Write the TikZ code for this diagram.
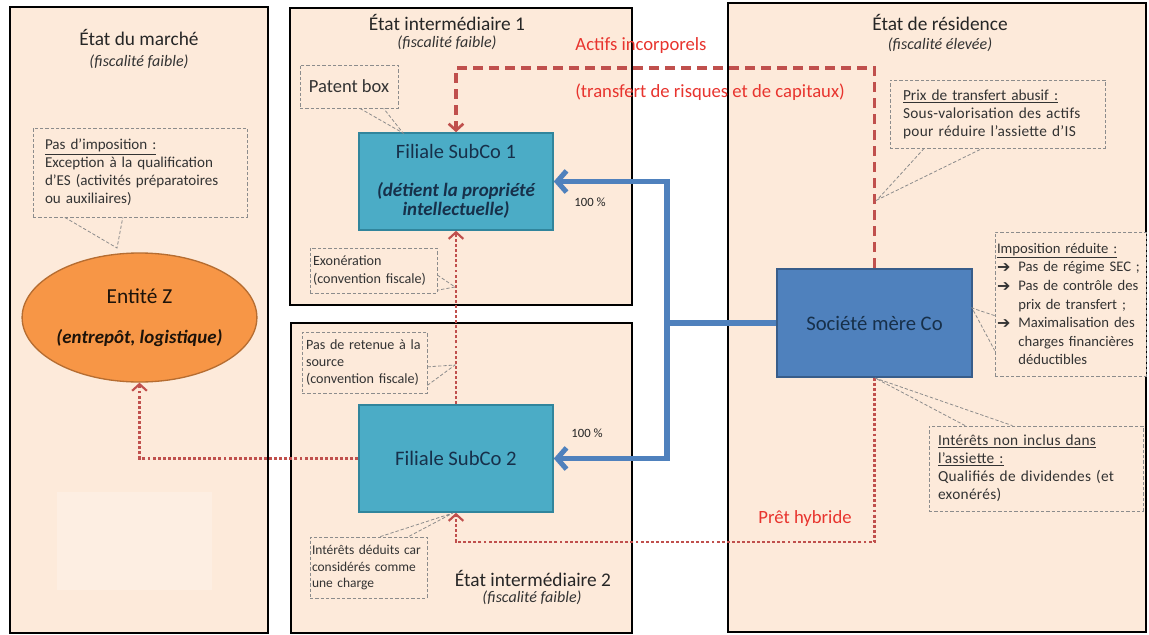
\documentclass[tikz,border=0pt]{standalone}
\usepackage{fontspec}
\setmainfont{Carlito}
\newfontfamily\symfont{DejaVu Sans}
\usetikzlibrary{arrows.meta,calc,shapes.geometric}

\definecolor{panelfill}{HTML}{FDEADA}
\definecolor{faintfill}{HTML}{FDEEE2}
\definecolor{subfill}{HTML}{4BACC6}
\definecolor{subdraw}{HTML}{31859C}
\definecolor{cofill}{HTML}{4F81BD}
\definecolor{codraw}{HTML}{385D8A}
\definecolor{zfill}{HTML}{F79646}
\definecolor{zdraw}{HTML}{B66D31}
\definecolor{flowred}{HTML}{C0504D}
\definecolor{labelred}{HTML}{E8342E}
\definecolor{calloutgray}{HTML}{8C8C8C}
\definecolor{callouttext}{HTML}{333333}
\definecolor{boxtext}{HTML}{17304A}

\newcommand\listarrow{\makebox[16pt][l]{\symfont\fontsize{12}{12}\selectfont\bfseries\raisebox{-0.5pt}{➔}}}

\tikzset{
  panel/.style={draw=black, line width=1.6pt, fill=panelfill},
  country/.style={font=\fontsize{14.5}{17}\selectfont, text=black!85},
  regime/.style={font=\fontsize{12}{14}\selectfont\itshape, text=black!80},
  subco/.style={draw=subdraw, line width=1.2pt, fill=subfill, text=boxtext,
    align=center, minimum width=145.5pt, inner sep=0pt},
  parent/.style={draw=codraw, line width=1.2pt, fill=cofill, text=boxtext,
    align=center, minimum width=146.25pt, minimum height=81pt,
    font=\fontsize{15.5}{17}\selectfont},
  warehouse/.style={ellipse, draw=zdraw, line width=1pt, fill=zfill,
    text=black!85!brown, align=center, inner sep=0pt,
    minimum width=161.25pt, minimum height=96.75pt,
    font=\fontsize{14.2}{17}\selectfont},
  share/.style={font=\fontsize{9.5}{11}\selectfont, text=black!85},
  redlabel/.style={font=\fontsize{14}{16}\selectfont, text=labelred},
  callout/.style={draw=calloutgray, line width=0.6pt,
    dash pattern=on 2.5pt off 1.5pt, fill=panelfill, text=callouttext,
    align=left, inner ysep=0pt},
  note/.style={font=\fontsize{11.3}{13.5}\selectfont},
  widenote/.style={font=\fontsize{11.5}{13.5}\selectfont\addfontfeatures{LetterSpace=2}},
  smallnote/.style={font=\fontsize{10.6}{13}\selectfont},
  pointer/.style={draw=calloutgray, line width=0.6pt,
    dash pattern=on 2.5pt off 1.5pt},
  own/.style={draw=cofill, line width=3.8pt,
    >={Straight Barb[length=7pt,width=16pt]}},
  flow/.style={draw=flowred, line width=2.2pt, dash pattern=on 2.2pt off 1.6pt,
    -{Straight Barb[length=5pt,width=11pt,line width=1.6pt]}},
  transfer/.style={draw=flowred, line width=2.6pt, dash pattern=on 7.5pt off 4.5pt,
    -{Straight Barb[length=5pt,width=11pt,line width=2pt]}},
}

\begin{document}
\begin{tikzpicture}[x=0.75pt, y=-0.75pt]
\useasboundingbox (0,0) rectangle (1149,635);
\fill[white] (0,0) rectangle (1149,635);

% the four states
\draw[panel] (10,7) rectangle (268,633);
\draw[panel] (290,8) rectangle (632,305);
\draw[panel] (291,323) rectangle (632,633);
\draw[panel] (728,3) rectangle (1146,632);
\fill[faintfill] (57,492) rectangle (212,590);

\node[country] (marche) at (139,37) {État du marché};
\node[regime] (marche-fisc) at (139,62) {(fiscalité faible)};
\node[country] (inter1) at (447,23) {État intermédiaire 1};
\node[regime] (inter1-fisc) at (447,43) {(fiscalité faible)};
\node[country] (inter2) at (533,578) {État intermédiaire 2};
\node[regime] (inter2-fisc) at (532,598) {(fiscalité faible)};
\node[country] (residence) at (940,23) {État de résidence};
\node[regime] (residence-fisc) at (940,45) {(fiscalité élevée)};

% entities
\node[warehouse] (z) at (139.5,317.5)
  {{\fontsize{16}{17}\selectfont Entité Z}\\[13pt]{\bfseries\itshape (entrepôt, logistique)}};
\node[subco, minimum height=72.75pt, font=\fontsize{14.2}{14.6}\selectfont] (sub1) at (456,181.5)
  {{\fontsize{15.3}{14.6}\selectfont Filiale SubCo 1}\\[13.9pt]
   {\bfseries\itshape (détient la propriété}\\{\bfseries\itshape intellectuelle)}};
\node[subco, minimum height=80.25pt, font=\fontsize{15.5}{17}\selectfont] (sub2) at (456,458.5)
  {Filiale SubCo 2};
\node[parent] (co) at (874.5,323) {Société mère Co};

% participations
\coordinate (fork) at (667,323);
\draw[own] (co.west) -- (fork);
\draw[own, <->] (sub1.east) -| (fork) |- (sub2.east);
\node[share] (share1) at (590,202) {100 \%};
\node[share] (share2) at (587,433) {100 \%};

% flows
\coordinate (actifs-corner) at (456,68);
\draw[transfer] (co.north) |- (actifs-corner) -- (sub1.north);
\draw[flow] (sub2.north) -- (sub1.south);
\draw[flow] (sub2.west) -| (z.south);
\coordinate (hybride-corner) at (456,542);
\draw[flow] (co.south) |- (hybride-corner) -- (sub2.south);

\node[redlabel] (actifs) at (641,46) {Actifs incorporels};
\node[redlabel, font=\fontsize{14}{16}\selectfont] (risques) at (710,92)
  {(transfert de risques et de capitaux)};
\node[redlabel] (hybride) at (805,519) {Prêt hybride};

% callouts
\node[callout, note, minimum width=160.5pt, minimum height=66.75pt,
  inner xsep=9pt, text width=142.5pt] (imposz) at (140,172.5)
  {\underline{Pas d’imposition :}\\Exception à la qualification\\
   d’ES (activités préparatoires\\ou auxiliaires)};
\node[callout, align=center, font=\fontsize{13.9}{15}\selectfont,
  minimum width=73.5pt, minimum height=32.25pt, inner xsep=0pt] (patent) at (349,86.5)
  {Patent box};
\node[callout, smallnote, minimum width=95.25pt, minimum height=33.75pt,
  inner xsep=2.25pt, text width=90.75pt] (exo) at (373.5,270.5)
  {Exonération\\(convention fiscale)};
\node[callout, smallnote, minimum width=93.75pt, minimum height=45.75pt,
  inner xsep=3pt, text width=87.75pt] (retenue) at (364.5,362.5)
  {Pas de retenue à la\\source\\(convention fiscale)};
\node[callout, font=\fontsize{10.1}{12.4}\selectfont, minimum width=87.75pt,
  minimum height=45.75pt, inner xsep=1.5pt, text width=84.75pt] (deduits) at (368.5,567.5)
  {Intérêts déduits car\\considérés comme\\une charge};
\node[callout, widenote, minimum width=161.25pt, minimum height=51pt,
  inner xsep=9.75pt, text width=141.75pt] (prix) at (997.5,114)
  {{\addfontfeatures{LetterSpace=0}\underline{Prix de transfert abusif :}}\\
   Sous-valorisation des actifs\\pour réduire l’assiette d’IS};
\node[callout, font=\fontsize{11}{13.9}\selectfont, minimum width=113.25pt,
  minimum height=108pt, inner xsep=1.5pt, text width=110.25pt] (imposco) at (1070.5,304)
  {\underline{Imposition réduite :}\\
   \listarrow\mbox{Pas de régime SEC ;}\\
   \listarrow\mbox{Pas de contrôle des}\\
   \hspace*{16pt}\mbox{prix de transfert ;}\\
   \listarrow\mbox{Maximalisation des}\\
   \hspace*{16pt}\mbox{charges financières}\\
   \hspace*{16pt}déductibles};
\node[callout, widenote, minimum width=160.5pt, minimum height=63.75pt,
  inner xsep=6.75pt, text width=147pt] (interets) at (1036,468.5)
  {\underline{Intérêts non inclus dans}\\\underline{l’assiette :}\\
   Qualifiés de dividendes (et\\exonérés)};

% callout pointers
\coordinate (imposz-tip) at (117,248);
\coordinate (patent-tip) at (403,133);
\coordinate (exo-tip) at (455,287);
\coordinate (retenue-tip) at (455,365);
\coordinate (deduits-tip) at (453,513);
\coordinate (prix-tip) at (877,200);
\coordinate (imposco-tip) at (972,308);
\coordinate (interets-tip) at (875,378);
\draw[pointer] ($(imposz.south west)!.15!(imposz.south east)$) -- (imposz-tip)
  -- ($(imposz.south west)!.42!(imposz.south east)$);
\draw[pointer] ($(patent.south west)!.61!(patent.south east)$) -- (patent-tip)
  -- ($(patent.south west)!.85!(patent.south east)$);
\draw[pointer] ($(exo.north east)!.6!(exo.south east)$) -- (exo-tip)
  -- ($(exo.north east)!.93!(exo.south east)$);
\draw[pointer] ($(retenue.north east)!.57!(retenue.south east)$) -- (retenue-tip)
  -- ($(retenue.north east)!.87!(retenue.south east)$);
\draw[pointer] ($(deduits.north west)!.6!(deduits.north east)$) -- (deduits-tip)
  -- ($(deduits.north west)!.84!(deduits.north east)$);
\draw[pointer] ($(prix.south west)!.16!(prix.south east)$) -- (prix-tip)
  -- ($(prix.south west)!.43!(prix.south east)$);
\draw[pointer] ($(imposco.north west)!.58!(imposco.south west)$) -- (imposco-tip)
  -- ($(imposco.north west)!.82!(imposco.south west)$);
\draw[pointer] ($(interets.north west)!.17!(interets.north east)$) -- (interets-tip)
  -- ($(interets.north west)!.39!(interets.north east)$);
\end{tikzpicture}
\end{document}
